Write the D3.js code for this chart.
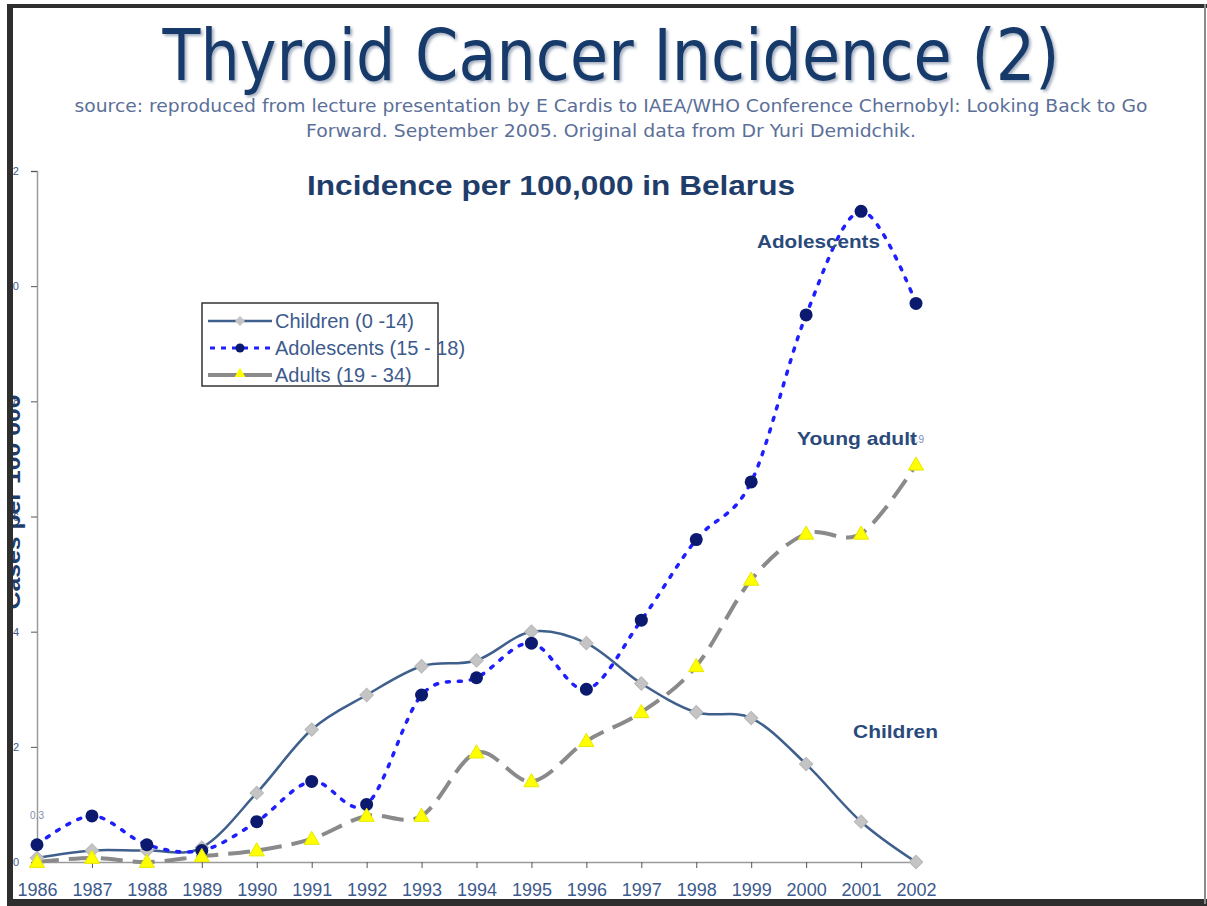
<!DOCTYPE html>
<html><head><meta charset="utf-8">
<script src="https://cdn.jsdelivr.net/npm/d3@7"></script>
<style>body{margin:0;background:#fff;} svg{display:block;}</style>
</head><body>
<svg id="c" width="1207" height="906"></svg>
<script>
const years = [1986,1987,1988,1989,1990,1991,1992,1993,1994,1995,1996,1997,1998,1999,2000,2001,2002];
const children    = [0.07,0.2,0.2,0.25,1.2,2.3,2.9,3.4,3.5,4.0,3.8,3.1,2.6,2.5,1.7,0.7,0];
const adolescents = [0.3,0.8,0.3,0.2,0.7,1.4,1.0,2.9,3.2,3.8,3.0,4.2,5.6,6.6,9.5,11.3,9.7];
const adults      = [0,0.07,0,0.1,0.2,0.4,0.8,0.8,1.9,1.4,2.1,2.6,3.4,4.9,5.7,5.7,6.9];
const yTicks = [0,2,4,6,8,10,12];
const legendLabels = ["Children  (0 -14)","Adolescents (15 - 18)","Adults (19 - 34)"];

const svg = d3.select("#c");
const x = d3.scalePoint().domain(years).range([37,916]);
const y = d3.scaleLinear().domain([0,12]).range([862,171]);
const labelBlue = "#3d5a8c";

// Titles
const defs = svg.append("defs");
const f = defs.append("filter").attr("id","sh").attr("x","-5%").attr("y","-20%").attr("width","110%").attr("height","140%");
f.append("feDropShadow").attr("dx",2).attr("dy",2).attr("stdDeviation",1.5).attr("flood-color","#7a8aa5").attr("flood-opacity",0.7);

svg.append("text").attr("x",611).attr("y",80).attr("text-anchor","middle")
  .attr("font-family","DejaVu Sans").attr("font-size",72).attr("fill","#173a6b")
  .attr("textLength",897).attr("lengthAdjust","spacingAndGlyphs").attr("filter","url(#sh)")
  .text("Thyroid Cancer Incidence (2)");
svg.append("text").attr("x",611).attr("y",112).attr("text-anchor","middle")
  .attr("font-family","DejaVu Sans").attr("font-size",17).attr("fill","#5b6f98")
  .attr("textLength",1073).attr("lengthAdjust","spacingAndGlyphs")
  .text("source: reproduced from lecture presentation by E Cardis to IAEA/WHO Conference Chernobyl: Looking Back to Go");
svg.append("text").attr("x",611).attr("y",137).attr("text-anchor","middle")
  .attr("font-family","DejaVu Sans").attr("font-size",17).attr("fill","#5b6f98")
  .attr("textLength",610).attr("lengthAdjust","spacingAndGlyphs")
  .text("Forward. September 2005. Original data from Dr Yuri Demidchik.");
svg.append("text").attr("x",551).attr("y",195).attr("text-anchor","middle")
  .attr("font-family","Liberation Sans, Arial").attr("font-weight","bold").attr("font-size",28).attr("fill","#1f3d6b")
  .attr("textLength",488).attr("lengthAdjust","spacingAndGlyphs")
  .text("Incidence per 100,000 in Belarus");

// Axes
const gx = svg.append("g").attr("transform","translate(0,862)")
  .call(d3.axisBottom(x).tickSize(6).tickPadding(15));
gx.select(".domain").attr("stroke","#9a9a9a").attr("stroke-width",1.5);
gx.selectAll(".tick line").attr("stroke","#555");
gx.selectAll("text").attr("font-family","Liberation Sans, Arial").attr("font-size",18).attr("fill",labelBlue);

const gy = svg.append("g").attr("transform","translate(37,0)")
  .call(d3.axisLeft(y).tickValues(yTicks).tickSize(6).tickPadding(12));
gy.select(".domain").attr("stroke","#9a9a9a").attr("stroke-width",1.5);
gy.selectAll(".tick line").attr("stroke","#555");
gy.selectAll("text").attr("font-family","Liberation Sans, Arial").attr("font-size",11).attr("fill",labelBlue);

svg.append("text").attr("transform","translate(20,502) rotate(-90)").attr("text-anchor","middle")
  .attr("font-family","Liberation Sans, Arial").attr("font-weight","bold").attr("font-size",22).attr("fill","#1f3d6b")
  .attr("textLength",215).attr("lengthAdjust","spacingAndGlyphs")
  .text("Cases per 100 000");

// Lines
const curve = d3.curveCardinal.tension(0);
const line = d => d3.line().x((v,i)=>x(years[i])).y(v=>y(v)).curve(curve)(d);

svg.append("path").attr("d",line(adults)).attr("fill","none").attr("stroke","#8a8a8a")
  .attr("stroke-width",4).attr("stroke-dasharray","22,10");
svg.append("path").attr("d",line(children)).attr("fill","none").attr("stroke","#3f5f8c").attr("stroke-width",2.5);
svg.append("path").attr("d",line(adolescents)).attr("fill","none").attr("stroke","#1e1eff")
  .attr("stroke-width",3.5).attr("stroke-dasharray","3,9").attr("stroke-linecap","round");

// Markers
const diamond = d3.symbol().type(d3.symbolSquare).size(90);
svg.append("g").selectAll("path").data(children).join("path")
  .attr("d",diamond).attr("transform",(v,i)=>`translate(${x(years[i])},${y(v)}) rotate(45)`)
  .attr("fill","#c4c4c4").attr("stroke","#b8b8b8");
svg.append("g").selectAll("circle").data(adolescents).join("circle")
  .attr("cx",(v,i)=>x(years[i])).attr("cy",v=>y(v)).attr("r",6.5).attr("fill","#0b1a6e");
const tri = d3.symbol().type(d3.symbolTriangle).size(100);
svg.append("g").selectAll("path").data(adults).join("path")
  .attr("d",tri).attr("transform",(v,i)=>`translate(${x(years[i])},${y(v)+1})`)
  .attr("fill","#ffff00").attr("stroke","#e8e800");

// Data labels
svg.append("text").attr("x",x(1986)).attr("y",y(adolescents[0])-26).attr("text-anchor","middle")
  .attr("font-family","Liberation Sans, Arial").attr("font-size",10).attr("fill","#7d8db0").text("0.3");
svg.append("text").attr("x",x(2002)+1).attr("y",y(adults[16])-22).attr("text-anchor","middle")
  .attr("font-family","Liberation Sans, Arial").attr("font-size",10).attr("fill","#7d8db0").text("6.9");

// Series annotations
const ann = [["Adolescents",757,248,123],["Young adult",797,445,120],["Children",853,738,85]];
svg.append("g").selectAll("text").data(ann).join("text")
  .attr("x",d=>d[1]).attr("y",d=>d[2])
  .attr("font-family","Liberation Sans, Arial").attr("font-weight","bold").attr("font-size",19).attr("fill","#2b4a7c")
  .attr("textLength",d=>d[3]).attr("lengthAdjust","spacingAndGlyphs")
  .text(d=>d[0]);

// Legend
const lg = svg.append("g");
lg.append("rect").attr("x",202).attr("y",303).attr("width",236).attr("height",83)
  .attr("fill","#fff").attr("stroke","#333").attr("stroke-width",1.5);
const ly = [321,348,375];
lg.append("line").attr("x1",208).attr("x2",272).attr("y1",ly[0]).attr("y2",ly[0]).attr("stroke","#3f5f8c").attr("stroke-width",2.5);
lg.append("path").attr("d",d3.symbol().type(d3.symbolSquare).size(50)).attr("transform",`translate(240,${ly[0]}) rotate(45)`).attr("fill","#c4c4c4");
lg.append("line").attr("x1",210).attr("x2",272).attr("y1",ly[1]).attr("y2",ly[1]).attr("stroke","#1e1eff").attr("stroke-width",3).attr("stroke-dasharray","5,6");
lg.append("circle").attr("cx",240).attr("cy",ly[1]).attr("r",4.5).attr("fill","#0b1a6e");
lg.append("line").attr("x1",208).attr("x2",272).attr("y1",ly[2]).attr("y2",ly[2]).attr("stroke","#8a8a8a").attr("stroke-width",4);
lg.append("path").attr("d",d3.symbol().type(d3.symbolTriangle).size(50)).attr("transform",`translate(240,${ly[2]-1})`).attr("fill","#ffff00");
lg.selectAll("text.l").data(legendLabels).join("text").attr("class","l")
  .attr("x",275).attr("y",(d,i)=>ly[i]+7)
  .attr("font-family","Liberation Sans, Arial").attr("font-size",20).attr("fill",labelBlue)
  .text(d=>d);

// Frame
svg.append("rect").attr("x",7).attr("y",4).attr("width",6).attr("height",902).attr("fill","#2e2e2e");
svg.append("rect").attr("x",7).attr("y",4).attr("width",1200).attr("height",4).attr("fill","#2e2e2e");
svg.append("rect").attr("x",7).attr("y",899).attr("width",1200).attr("height",7).attr("fill","#2e2e2e");
svg.append("rect").attr("x",1204).attr("y",4).attr("width",2).attr("height",900).attr("fill","#8a8a8a");
svg.append("rect").attr("x",0).attr("y",0).attr("width",7).attr("height",906).attr("fill","#fff");
</script>
</body></html>
